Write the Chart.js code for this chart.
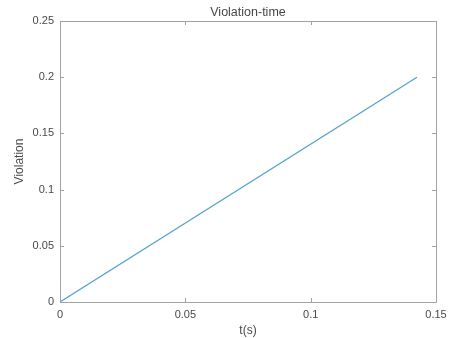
<!DOCTYPE html>
<html>
<head>
<meta charset="utf-8">
<script src="https://cdn.jsdelivr.net/npm/chart.js@4/dist/chart.umd.min.js"></script>
<style>
  html, body { margin: 0; padding: 0; background: #fff; }
  #wrap { width: 461px; height: 338px; }
</style>
</head>
<body>
<div id="wrap"><canvas id="c" width="461" height="338"></canvas></div>
<script>
// Violation over time
const timeValues = [0, 0.1424];
const violationValues = [0, 0.2];
const xTickLabels = ['0', '0.05', '0.1', '0.15'];
const yTickLabels = ['0', '0.05', '0.1', '0.15', '0.2', '0.25'];
const titleText = 'Violation-time';
const xAxisTitle = 't(s)';
const yAxisTitle = 'Violation';

const AXIS_COLOR = '#a2a2a2';
const TEXT_COLOR = '#484848';
const TICK_LEN = 4;

// Box around the plot area with inward ticks on all four sides
const boxAxes = {
  id: 'boxAxes',
  afterDatasetsDraw(chart) {
    const { ctx, chartArea: a, scales } = chart;
    ctx.save();
    ctx.strokeStyle = AXIS_COLOR;
    ctx.lineWidth = 1;
    ctx.beginPath();
    ctx.rect(Math.round(a.left) + 0.5, Math.round(a.top) + 0.5,
             Math.round(a.right - a.left), Math.round(a.bottom - a.top));
    scales.x.ticks.forEach(t => {
      const px = Math.round(scales.x.getPixelForValue(t.value)) + 0.5;
      ctx.moveTo(px, a.bottom); ctx.lineTo(px, a.bottom - TICK_LEN);
      ctx.moveTo(px, a.top); ctx.lineTo(px, a.top + TICK_LEN);
    });
    scales.y.ticks.forEach(t => {
      const py = Math.round(scales.y.getPixelForValue(t.value)) + 0.5;
      ctx.moveTo(a.left, py); ctx.lineTo(a.left + TICK_LEN, py);
      ctx.moveTo(a.right, py); ctx.lineTo(a.right - TICK_LEN, py);
    });
    ctx.stroke();
    ctx.restore();
  }
};

const FONT = 'Liberation Sans, Arial, Helvetica, sans-serif';

new Chart(document.getElementById('c'), {
  type: 'scatter',
  data: {
    datasets: [{
      data: timeValues.map((t, i) => ({ x: t, y: violationValues[i] })),
      showLine: true,
      borderColor: '#52a0cf',
      borderWidth: 1.2,
      pointRadius: 0,
      tension: 0
    }]
  },
  options: {
    responsive: false,
    animation: false,
    devicePixelRatio: 1,
    layout: { padding: { top: 0, right: 25, left: 0, bottom: 0 } },
    plugins: {
      legend: { display: false },
      tooltip: { enabled: false },
      title: {
        display: true,
        text: titleText,
        fullSize: false,
        color: TEXT_COLOR,
        font: { family: FONT, size: 12.5, weight: 'normal' },
        padding: { top: 5.5, bottom: 0.5 }
      }
    },
    scales: {
      x: {
        type: 'linear',
        min: 0, max: 0.15,
        grid: { display: false, drawTicks: false },
        border: { display: false },
        afterFit(s) { s.height = 36; },
        afterBuildTicks(s) { s.ticks = xTickLabels.map(l => ({ value: parseFloat(l) })); },
        ticks: {
          color: TEXT_COLOR,
          padding: 6.5,
          maxRotation: 0,
          font: { family: FONT, size: 11 },
          callback: (v, i) => xTickLabels[i]
        },
        title: {
          display: true, text: xAxisTitle, color: TEXT_COLOR,
          font: { family: FONT, size: 12 },
          padding: { top: 0, bottom: 0 }
        }
      },
      y: {
        type: 'linear',
        min: 0, max: 0.25,
        grid: { display: false, drawTicks: false },
        border: { display: false },
        afterFit(s) { s.width = 60; },
        afterBuildTicks(s) { s.ticks = yTickLabels.map(l => ({ value: parseFloat(l) })); },
        ticks: {
          color: TEXT_COLOR,
          padding: 6,
          font: { family: FONT, size: 11 },
          callback: (v, i) => yTickLabels[i]
        },
        title: {
          display: true, text: yAxisTitle, color: TEXT_COLOR,
          font: { family: FONT, size: 12 },
          padding: { top: 12.8, bottom: 0 }
        }
      }
    }
  },
  plugins: [boxAxes]
});
</script>
</body>
</html>
